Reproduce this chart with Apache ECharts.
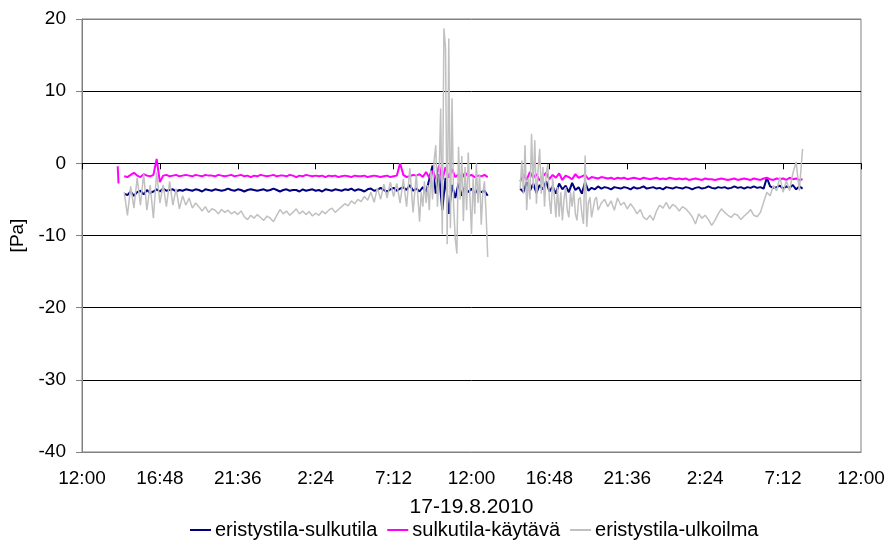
<!DOCTYPE html>
<html>
<head>
<meta charset="utf-8">
<script src="https://cdn.jsdelivr.net/npm/echarts@6/dist/echarts.min.js"></script>
<style>html,body{margin:0;padding:0;background:#fff}#c{width:892px;height:548px}</style>
</head>
<body>
<div id="c"></div>
<script>
// Time in hours from 17.8.2010 12:00
const seriesNames = ['eristystila-sulkutila', 'sulkutila-käytävä', 'eristystila-ulkoilma'];
const xTickLabels = ['12:00','16:48','21:36','2:24','7:12','12:00','16:48','21:36','2:24','7:12','12:00'];
const yTicks = [-40, -30, -20, -10, 0, 10, 20];

// segment 1: 2.6 h .. 25.0 h, step 0.2 h ; segment 2: 27.0 h .. 44.4 h, step 0.2 h
const navySeg1 = [
-4.2,-4.4,-3.9,-4.5,-4.0,-3.8,-4.3,-3.7,-4.1,-3.9,
-3.6,-3.9,-3.5,-3.8,-3.7,-3.6,-3.9,-3.7,-3.8,-3.6,
-3.7,-3.8,-3.6,-3.7,-3.9,-3.6,-3.7,-3.8,-3.6,-3.7,
-3.8,-3.7,-3.5,-3.7,-3.8,-3.6,-3.7,-3.9,-3.7,-3.6,
-3.7,-3.8,-3.7,-3.6,-3.8,-3.7,-3.5,-3.7,-3.9,-3.7,
-3.6,-3.8,-3.7,-3.7,-3.9,-3.6,-3.8,-3.7,-3.6,-3.8,
-3.7,-3.9,-3.6,-3.7,-3.8,-3.6,-3.7,-3.8,-3.6,-3.7,
-3.5,-3.8,-3.6,-3.7,-3.9,-3.6,-3.5,-3.8,-3.7,-3.4,
-3.7,-3.9,-3.6,-3.4,-3.8,-3.5,-3.3,-3.7,-3.0,-3.8,
-3.5,-3.9,-3.3,-4.0,-2.2,-0.3,-4.2,-1.5,-6.5,-2.0,
-7.0,-3.0,-4.8,-2.8,-4.5,-3.2,-4.0,-3.5,-4.2,-3.6,
-4.0,-3.8,-4.5];
const navySeg2 = [
-3.5,-4.0,-2.6,-3.8,-2.8,-4.1,-3.0,-3.6,-2.5,-3.9,
-3.2,-4.2,-2.8,-3.6,-3.1,-4.0,-2.7,-3.7,-3.3,-4.2,
-2.6,-3.8,-3.4,-3.6,-3.2,-3.5,-3.3,-3.4,-3.6,-3.3,
-3.4,-3.5,-3.3,-3.4,-3.6,-3.3,-3.5,-3.4,-3.2,-3.5,
-3.4,-3.3,-3.5,-3.4,-3.6,-3.3,-3.4,-3.5,-3.3,-3.4,
-3.5,-3.3,-3.4,-3.6,-3.4,-3.3,-3.5,-3.4,-3.2,-3.4,
-3.5,-3.3,-3.4,-3.3,-3.5,-3.4,-3.2,-3.4,-3.3,-3.5,
-3.3,-3.4,-3.2,-3.4,-3.3,-3.5,-2.0,-3.2,-3.4,-3.3,
-3.1,-3.5,-3.2,-3.4,-3.0,-3.6,-3.2,-3.5];

const magentaSpike = [-0.4, -2.8]; // at 2.2 h
const magentaSeg1 = [
-1.8,-1.9,-1.6,-1.3,-1.7,-1.9,-1.5,-1.7,-1.8,-1.6,
0.6,-2.6,-1.7,-1.6,-1.8,-1.7,-1.6,-1.8,-1.7,-1.6,
-1.7,-1.8,-1.6,-1.7,-1.8,-1.6,-1.7,-1.7,-1.8,-1.6,
-1.7,-1.8,-1.7,-1.6,-1.8,-1.7,-1.6,-1.8,-1.7,-1.9,
-1.7,-1.8,-1.6,-1.7,-1.8,-1.7,-1.6,-1.8,-1.7,-1.7,
-1.8,-1.6,-1.7,-1.9,-1.7,-1.8,-1.6,-1.7,-1.8,-1.7,
-1.8,-1.7,-1.9,-1.7,-1.8,-1.7,-1.9,-1.8,-1.7,-1.8,
-1.9,-1.7,-1.8,-1.8,-1.7,-1.9,-1.8,-1.7,-1.8,-1.9,
-1.8,-1.7,-1.9,-1.8,-1.7,0.0,-1.6,-1.9,-1.8,-1.6,
-1.7,-1.5,-1.9,-1.2,-2.0,-1.0,-2.2,-0.3,-2.3,-0.5,
-2.0,-0.8,-1.9,-1.5,-2.1,-1.3,-1.8,-1.6,-1.9,-1.7,
-1.8,-1.6,-1.9];
const magentaSeg2 = [
-2.5,-1.6,-2.3,-1.2,-2.0,-1.5,-2.4,-1.8,-1.3,-2.2,
-1.6,-2.0,-1.4,-2.3,-1.7,-1.9,-2.2,-1.5,-2.0,-1.8,
-1.6,-2.2,-1.9,-2.0,-2.1,-1.9,-2.0,-2.1,-2.0,-2.2,
-2.0,-2.1,-2.0,-2.2,-2.1,-2.0,-2.1,-2.2,-2.0,-2.1,
-2.2,-2.1,-2.0,-2.2,-2.1,-2.2,-2.0,-2.1,-2.2,-2.1,
-2.2,-2.1,-2.3,-2.2,-2.1,-2.2,-2.3,-2.1,-2.2,-2.2,
-2.3,-2.2,-2.1,-2.2,-2.3,-2.2,-2.1,-2.3,-2.2,-2.1,
-2.2,-2.3,-2.1,-2.2,-2.3,-2.1,-2.0,-2.2,-2.3,-2.1,
-2.2,-2.1,-2.3,-2.0,-2.2,-2.1,-2.3,-2.2];

// grey: 2.6..20.6 h step 0.2, 20.8..25.0 h step 0.1, 27.0..32.0 h step 0.1, 32.2..44.4 h step 0.2
const greySeg1a = [
-4.0,-7.2,-3.2,-6.2,-2.0,-5.8,-1.5,-6.5,-3.0,-7.6,
-1.2,-5.5,-3.0,-6.0,-2.5,-5.8,-3.5,-6.3,-4.5,-5.8,
-4.8,-6.2,-5.5,-6.0,-6.6,-6.0,-6.8,-6.3,-6.5,-7.0,
-6.4,-6.8,-6.5,-7.0,-6.7,-7.1,-6.6,-7.4,-7.8,-7.2,
-7.6,-7.1,-7.5,-7.9,-7.3,-7.6,-8.1,-7.2,-6.4,-7.0,
-6.6,-7.2,-6.8,-6.3,-7.0,-6.6,-7.1,-6.7,-7.3,-6.9,
-7.2,-6.6,-7.0,-6.5,-6.2,-6.8,-6.4,-6.0,-5.6,-5.9,
-5.2,-5.6,-5.0,-5.3,-4.6,-5.1,-4.0,-5.4,-3.4,-5.0,
-2.9,-4.8,-2.6,-4.6,-2.8,-5.5,-2.2,-6.0,-0.7,-6.8,
-1.5];
const greySeg1b = [
-8.1,-4.0,-6.0,-2.5,-5.5,-3.0,-6.5,-1.0,-5.0,0.5,
2.5,-6.0,-2.0,7.6,-9.8,18.7,16.0,-11.2,17.3,-9.0,
9.0,-6.0,-10.5,-12.5,2.3,-5.0,1.0,-8.0,-0.5,-6.5,
1.5,-4.5,-9.8,-2.0,-7.0,0.0,-5.5,-1.5,-8.5,-4.0,
-2.5,-7.0,-13.0];
const greySeg2a = [
-3.5,0.4,-4.2,2.5,-6.5,-2.0,-5.0,4.1,-3.3,3.2,
-5.6,-1.0,2.0,-4.2,-0.5,-6.0,-1.5,-0.1,-5.0,-7.0,
-2.0,-4.5,-7.5,-3.3,-7.4,-4.0,-7.9,-5.0,-3.3,-6.5,
-7.5,-4.0,-6.0,-3.8,-7.0,-7.9,-5.0,-4.7,-7.0,-8.4,
1.1,-8.8,-5.5,-4.7,-7.5,-7.4,-5.0,-4.7,-6.5,-6.5,
-5.5];
const greySeg2b = [
-5.0,-6.0,-5.2,-6.5,-4.8,-5.8,-5.4,-6.3,-5.6,-6.2,
-7.0,-6.4,-7.5,-7.8,-7.2,-7.9,-6.6,-5.8,-6.2,-5.4,
-6.3,-5.7,-6.0,-6.6,-6.0,-6.3,-6.8,-7.4,-8.4,-7.0,
-7.6,-7.2,-7.8,-8.6,-7.9,-7.0,-6.3,-6.8,-7.2,-7.5,
-7.0,-7.2,-7.8,-7.3,-6.9,-6.4,-7.2,-7.4,-6.8,-5.4,
-4.0,-4.5,-3.1,-3.8,-1.9,-4.0,-2.4,-3.8,-1.4,0.2,
-3.8,2.0];

function piece(start, step, vals) {
  return vals.map(function (v, i) { return [+(start + i * step).toFixed(3), v]; });
}
function joinPieces(pieces) {
  let out = [];
  pieces.forEach(function (p, k) {
    if (k > 0) out.push([p[0][0] - 0.01, null]);
    out = out.concat(p);
  });
  return out;
}

const navyData = joinPieces([piece(2.6, 0.2, navySeg1), piece(27.0, 0.2, navySeg2)]);
const magentaData = joinPieces([piece(2.2, 0.05, magentaSpike), piece(2.6, 0.2, magentaSeg1), piece(27.0, 0.2, magentaSeg2)]);
const greyData = joinPieces([
  piece(2.6, 0.2, greySeg1a).concat(piece(20.8, 0.1, greySeg1b)),
  piece(27.0, 0.1, greySeg2a).concat(piece(32.2, 0.2, greySeg2b))
]);

const FONT = 'Liberation Sans, Arial, sans-serif';
const chart = echarts.init(document.getElementById('c'), null, {renderer: 'canvas'});
chart.setOption({
  animation: false,
  backgroundColor: '#ffffff',
  textStyle: {fontFamily: FONT, color: '#000'},
  grid: {left: 82, right: 31, top: 19, bottom: 96, show: true, borderColor: '#808080', borderWidth: 1},
  legend: {
    data: seriesNames,
    top: 520,
    left: 190,
    padding: 0,
    icon: 'rect',
    itemWidth: 21,
    itemHeight: 2,
    itemGap: 10,
    textStyle: {fontFamily: FONT, fontSize: 20, color: '#000', padding: [0, 0, 0, -1]}
  },
  xAxis: [
    {
      type: 'value', min: 0, max: 48, interval: 4.8, position: 'bottom',
      axisLine: {show: true, onZero: false, lineStyle: {color: '#808080', width: 1}},
      axisTick: {show: false},
      splitLine: {show: false},
      axisLabel: {
        fontFamily: FONT, fontSize: 19, color: '#000', margin: 17,
        formatter: function (v) { return xTickLabels[Math.round(v / 4.8)]; }
      },
      name: '17-19.8.2010', nameLocation: 'middle', nameGap: 45,
      nameTextStyle: {fontFamily: FONT, fontSize: 21, color: '#000'}
    },
    {
      type: 'value', min: 0, max: 48, interval: 4.8, position: 'bottom',
      axisLine: {show: true, onZero: true, lineStyle: {color: '#000', width: 1}},
      axisTick: {show: true, length: 6, lineStyle: {color: '#000'}},
      axisLabel: {show: false},
      splitLine: {show: false}
    }
  ],
  yAxis: {
    type: 'value', min: yTicks[0], max: yTicks[yTicks.length - 1], interval: 10,
    axisLine: {show: true, onZero: false, lineStyle: {color: '#808080', width: 1}},
    axisTick: {show: true, length: 6, lineStyle: {color: '#808080'}},
    axisLabel: {fontFamily: FONT, fontSize: 19, color: '#000', margin: 16},
    splitLine: {show: true, lineStyle: {color: ['#808080', '#000', '#000', '#000', '#000', '#000', '#808080'], width: 1}},
    name: '[Pa]', nameLocation: 'middle', nameGap: 51,
    nameTextStyle: {fontFamily: FONT, fontSize: 19, color: '#000'}
  },
  series: [
    {name: seriesNames[0], type: 'line', data: navyData, showSymbol: false, symbol: 'none', color: '#000080',
     lineStyle: {color: '#000080', width: 2}, connectNulls: false, z: 3},
    {name: seriesNames[1], type: 'line', data: magentaData, showSymbol: false, symbol: 'none', color: '#FF00FF',
     lineStyle: {color: '#FF00FF', width: 2}, connectNulls: false, z: 4},
    {name: seriesNames[2], type: 'line', data: greyData, showSymbol: false, symbol: 'none', color: '#C0C0C0',
     lineStyle: {color: '#C0C0C0', width: 1.5}, connectNulls: false, z: 5}
  ]
});
</script>
</body>
</html>
